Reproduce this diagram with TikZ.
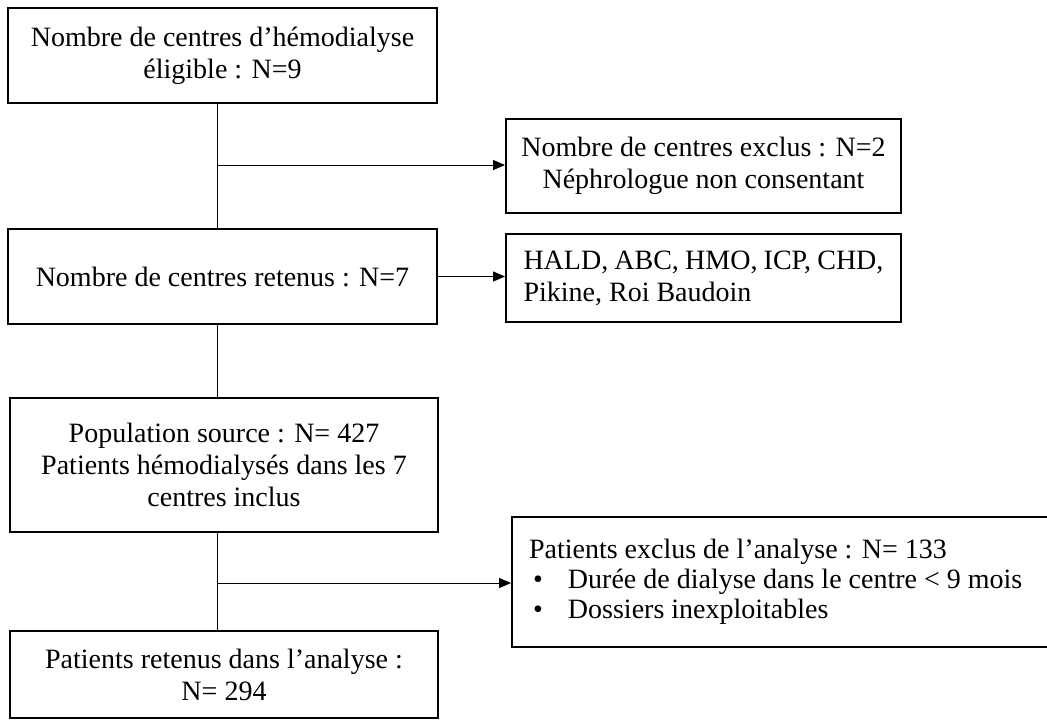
\documentclass[tikz,border=0pt]{standalone}
\usepackage{fontspec}
\setmainfont{Liberation Serif}
\usetikzlibrary{arrows.meta}

\begin{document}
\begin{tikzpicture}
  [x=0.5pt,y=-0.5pt,font=\fontsize{14}{16}\selectfont,
   every node/.style={draw,line width=1pt,inner sep=0pt,align=center},
   link/.style={line width=0.5pt},
   arrowlink/.style={line width=0.5pt,-{Triangle[length=6pt,width=5pt]}}]
  \useasboundingbox (0,0) rectangle (1047,720);

  \node[minimum width=214.5pt,minimum height=47.5pt] (elig) at (222.5,55.5)
    {Nombre de centres d’hémodialyse\\éligible : N=9};
  \node[minimum width=214.5pt,minimum height=47.5pt] (ret) at (222.5,276.5)
    {Nombre de centres retenus : N=7};
  \node[minimum width=214pt,minimum height=67pt] (pop) at (224,465)
    {Population source : N= 427\\Patients hémodialysés dans les 7\\centres inclus};
  \node[minimum width=214pt,minimum height=43.5pt] (pat) at (224,674.5)
    {Patients retenus dans l’analyse :\\N= 294};

  \node[minimum width=197.5pt,minimum height=47pt] (excl) at (703.5,166)
    {Nombre de centres exclus : N=2\\Néphrologue non consentant};
  \node[minimum width=197.5pt,minimum height=44pt,text width=180pt,align=flush left] (list) at (703.5,278)
    {HALD,\hfill ABC,\hfill HMO,\hfill ICP,\hfill CHD,\\Pikine, Roi Baudoin};
  % right side runs off the page
  \node[minimum width=300pt,minimum height=65pt,text width=283pt,align=flush left,
        font=\fontsize{14}{15}\selectfont] (patex) at (812,582)
    {Patients exclus de l’analyse : N= 133\\
     \makebox[19.5pt][l]{\hspace{2pt}\textbullet}Durée de dialyse dans le centre < 9 mois\\
     \makebox[19.5pt][l]{\hspace{2pt}\textbullet}Dossiers inexploitables\\[12pt]};

  % trunk and branch points
  \coordinate (trunk) at (217,0);
  \coordinate (b1) at (217,165);
  \coordinate (b2) at (217,583);

  \foreach \from/\to in {elig/ret, ret/pop, pop/pat}
  \draw[link] (\from.south -| trunk) -- (\to.north -| trunk);

  \draw[arrowlink] (b1) -- (b1 -| excl.west);
  \draw[arrowlink] (ret.east) -- (ret.east -| list.west);
  \draw[arrowlink] (b2) -- (b2 -| patex.west);
\end{tikzpicture}
\end{document}
